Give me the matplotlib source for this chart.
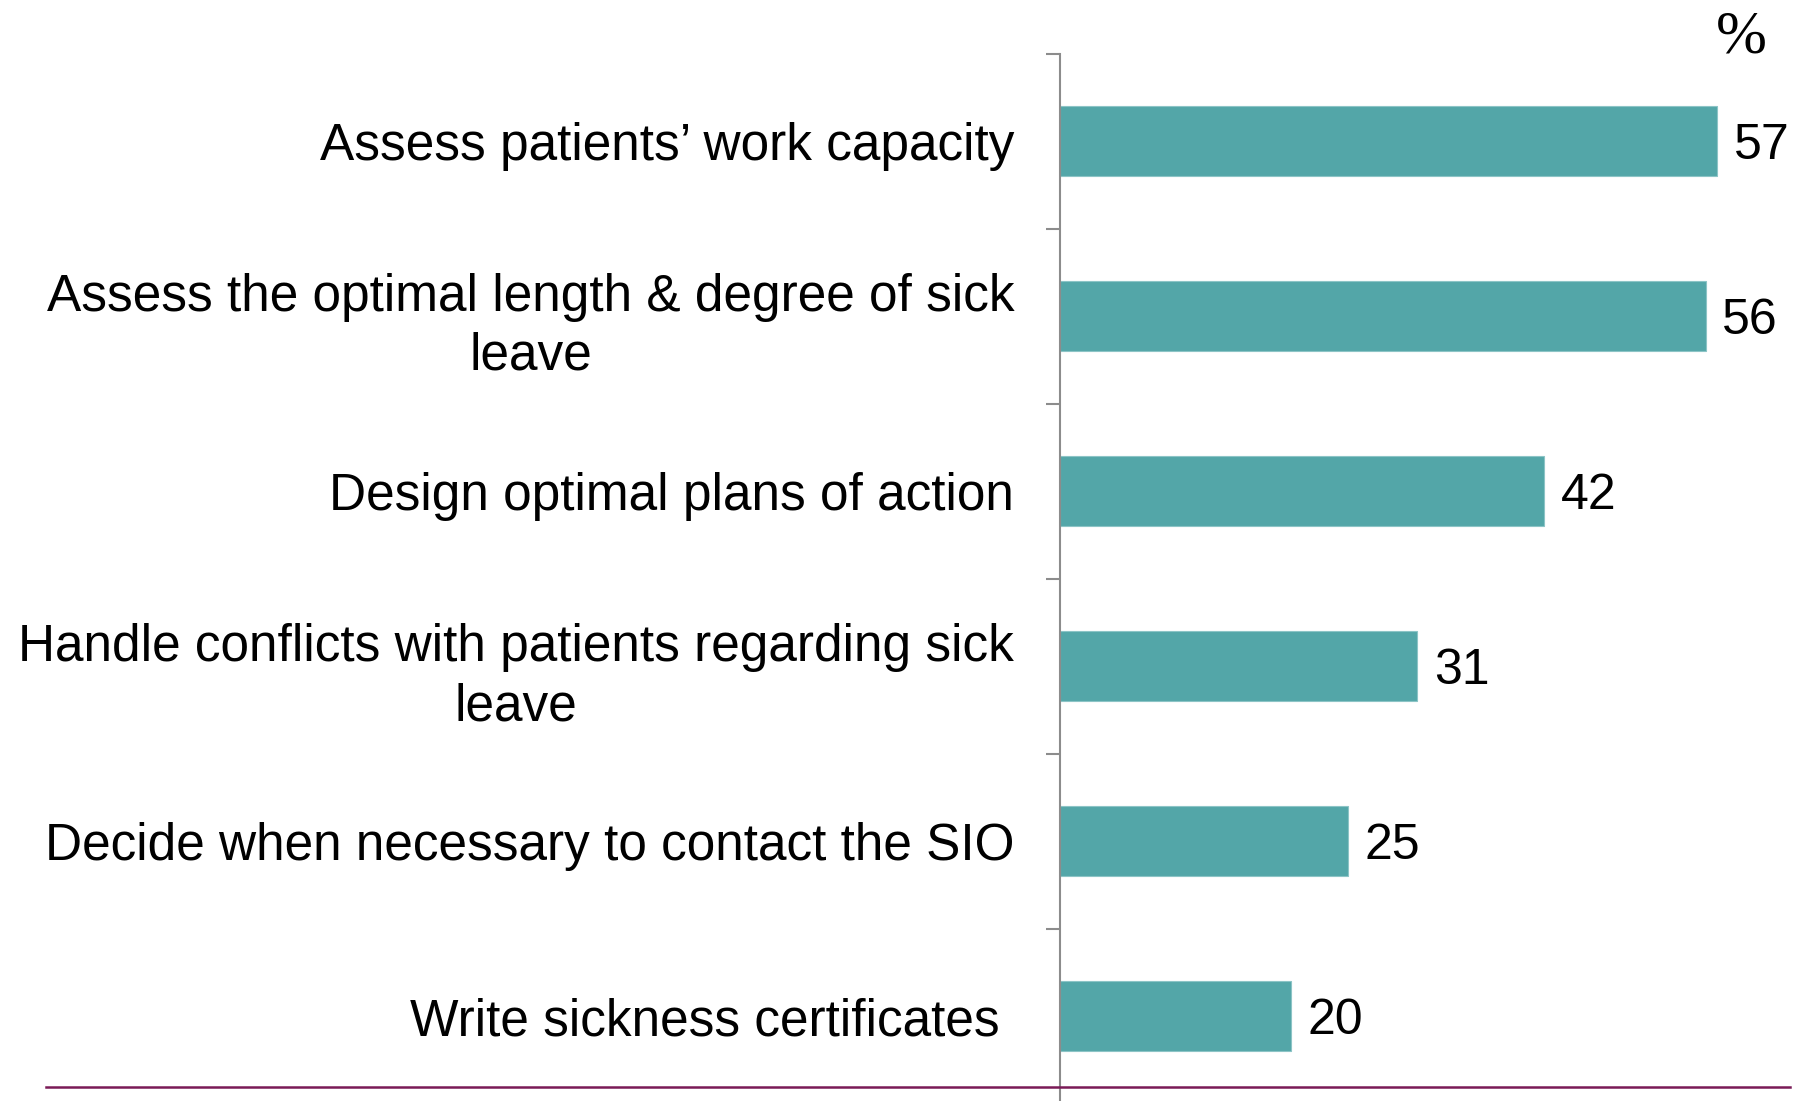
"""
Sick leave tasks: share of GPs finding each task problematic
"""

import numpy as np
import matplotlib.pyplot as plt
from matplotlib.lines import Line2D

tasks = ["Assess patients\u2019 work capacity",
         "Assess the optimal length & degree of sick\nleave",
         "Design optimal plans of action",
         "Handle conflicts with patients regarding sick\nleave",
         "Decide when necessary to contact the SIO",
         "Write sickness certificates "]
shares = [57, 56, 42, 31, 25, 20]

plt.rcParams['font.family'] = ['Liberation Sans', 'DejaVu Sans']

fig = plt.figure(figsize=(18.06, 11.01), dpi=100)
ax = fig.add_axes([0.587, -0.0027, 0.383, 0.954])

y = np.arange(len(tasks))
ax.barh(y, shares, height=0.4, color='#53a6a8', edgecolor='#8cc4c6', linewidth=0.8)

ax.set_ylim(len(tasks) - 0.5, -0.5)
ax.set_xlim(0, 60)

for spine in ['top', 'right', 'bottom']:
    ax.spines[spine].set_visible(False)
ax.spines['left'].set_color('#8c8c8c')
ax.spines['left'].set_linewidth(1.5)

ax.set_xticks([])
ax.set_yticks(y)
ax.set_yticklabels(tasks, fontsize=37, multialignment='center', linespacing=1.27)
ax.tick_params(axis='y', which='major', length=0, pad=33)
ax.set_yticks(np.arange(len(tasks)) - 0.5, minor=True)
ax.tick_params(axis='y', which='minor', length=10, width=1.5, color='#8c8c8c')

for yi, v in zip(y, shares):
    ax.annotate(str(v), xy=(v, yi), xytext=(12, -13), textcoords='offset points',
                va='baseline', ha='left', fontsize=36)

fig.text(0.964, 0.966, '%', fontsize=44, family='Liberation Serif',
         ha='center', va='center')

# purple rule under the chart
fig.add_artist(Line2D([46 / 1806, 1790 / 1806], [1 - 1087 / 1101] * 2,
                      color='#7a1a57', linewidth=1.8))

plt.savefig('out.png', dpi=100)
